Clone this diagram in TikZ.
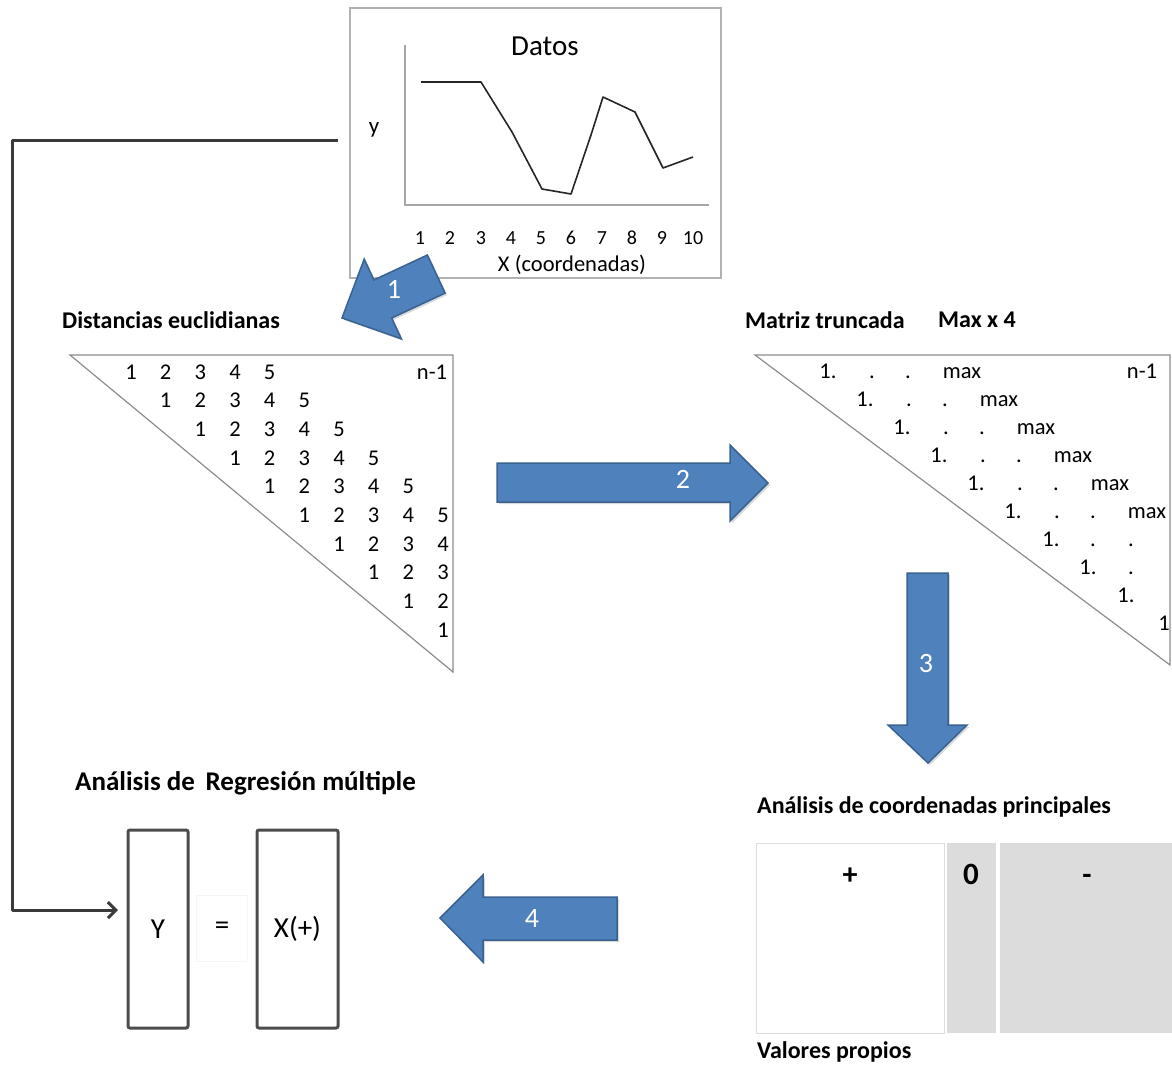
\documentclass[tikz,border=0pt]{standalone}
\usepackage{fontspec}
\setmainfont{Carlito}
\usetikzlibrary{arrows.meta,shadows}
\definecolor{blueA}{HTML}{4F81BD}
\definecolor{blueB}{HTML}{3A6290}
\definecolor{conn}{HTML}{3A3A3A}
\definecolor{panel}{HTML}{DCDCDC}
\definecolor{triline}{HTML}{8C8C8C}
\begin{document}
\begin{tikzpicture}[x=1pt,y=-1pt,
  blockarrow/.style={fill=blueA,draw=blueB,line width=1.5pt,line join=miter,
    drop shadow={shadow xshift=2pt,shadow yshift=-2pt,opacity=0.3}},
  arrlabel/.style={text=white,font=\fontsize{28}{30}\selectfont,inner sep=0pt},
  num/.style={font=\fontsize{22.5}{24}\selectfont,inner sep=0pt,anchor=base},
  tick/.style={font=\fontsize{20}{22}\selectfont,inner sep=0pt},
  ttl/.style={font=\bfseries\fontsize{24}{26}\selectfont,inner sep=0pt,anchor=west},
  tri/.style={draw=triline,line width=1.2pt,line join=miter},
  regbox/.style={draw=black!70,line width=3pt,rounded corners=2pt,minimum width=60pt,minimum height=198pt,font=\fontsize{29}{31}\selectfont},
  connline/.style={draw=conn,line width=3pt}]
\useasboundingbox (0,0) rectangle (1172,1065);

% ---------- Data chart ----------
\node[draw=gray!60,line width=1.5pt,minimum width=371pt,minimum height=270pt,inner sep=0pt] (chart) at (535.5,143) {};
\node[font=\fontsize{29}{31}\selectfont,inner sep=0pt] (datos) at (545,46) {Datos};
\node[font=\fontsize{23}{25}\selectfont,inner sep=0pt] (ylab) at (374,130) {y};
\coordinate (ax0) at (405,205);
\draw[draw=gray!70,line width=1.2pt] (405,45) -- (ax0) -- (709,205);
\draw[black!85,line width=1.6pt,line join=round]
  (421,82) -- (481,82) -- (512,132) -- (542,189) -- (571,194) -- (591,135)
  -- (603,97) -- (635,112) -- (663,168) -- (693,157);
\foreach \k/\xx in {1/420,2/450,3/481,4/511,5/541,6/571,7/602,8/632,9/662,10/693}
  \node[tick] (t\k) at (\xx,238) {\k};
\node[font=\fontsize{22.5}{24}\selectfont,inner sep=0pt] (xlab) at (572,265) {X (coordenadas)};

% ---------- Connector ----------
\coordinate (cstart) at (338,140);
\coordinate (Yin) at (118,910);
\draw[connline,-{Straight Barb[length=8pt,width=16pt]},line join=round] (cstart) -- (12,140) -- (12,910) -- (Yin);

% ---------- Arrow 1 ----------
\begin{scope}[shift={(342,318)},rotate=205]
  \path[blockarrow] (0,0) -- (-45,44) -- (-45,21) -- (-104,21) -- (-104,-21) -- (-45,-21) -- (-45,-44) -- cycle;
\end{scope}
\node[arrlabel] (l1) at (394,289) {1};

% ---------- Distance matrix ----------
\node[ttl] (dist) at (62,320) {Distancias euclidianas};
\draw[tri] (70,355) -- (453,355) -- (453,672) -- cycle;
\foreach \i in {0,...,9}{
  \foreach \j in {0,...,4}{
    \pgfmathtruncatemacro\c{\i+\j}
    \pgfmathtruncatemacro\v{\j+1}
    \ifnum\c<10
      \node[num] (d-\i-\j) at ({131+34.67*\c},{379+28.67*\i}) {\v};
    \fi
  }
}
\node[num] (dn1) at (432,379) {n-1};

% ---------- Arrow 2 ----------
\path[blockarrow] (497,463) -- (730,463) -- (730,445) -- (768,483) -- (730,521) -- (730,502) -- (497,502) -- cycle;
\node[arrlabel] (l2) at (683,479) {2};

% ---------- Truncated matrix ----------
\node[ttl] (trunc) at (745,320) {Matriz truncada};
\node[ttl] (maxx) at (938,320) {Max x 4};
\draw[tri] (755,355) -- (1170,355) -- (1170,665) -- cycle;
\foreach \i in {0,...,5}{
  \node[num] (m-\i-a) at ({828+37*\i},{378+28.1*\i}) {1.};
  \node[num] (m-\i-b) at ({872+37*\i},{378+28.1*\i}) {.};
  \node[num] (m-\i-c) at ({908+37*\i},{378+28.1*\i}) {.};
  \node[num] (m-\i-d) at ({962+37*\i},{378+28.1*\i}) {max};
}
\node[num] (mn1) at (1142,378) {n-1};
\node[num] (m-6-a) at (1051,{378+28.1*6}) {1.};
\node[num] (m-6-b) at (1093,{378+28.1*6}) {.};
\node[num] (m-6-c) at (1131,{378+28.1*6}) {.};
\node[num] (m-7-a) at (1088,{378+28.1*7}) {1.};
\node[num] (m-7-b) at (1131,{378+28.1*7}) {.};
\node[num] (m-8-a) at (1126,{378+28.1*8}) {1.};
\node[num] (m-9-a) at (1164,{378+28.1*9}) {1};

% ---------- Arrow 3 ----------
\path[blockarrow] (907,573) -- (948,573) -- (948,725) -- (967,725) -- (928,763) -- (888,725) -- (907,725) -- cycle;
\node[arrlabel] (l3) at (926,664) {3};

% ---------- Principal coordinates ----------
\node[ttl] (pcoa) at (757,807) {Análisis de coordenadas principales};
\node[draw=blue!8!gray!25,line width=1.2pt,fill=white,minimum width=188pt,minimum height=190pt,anchor=north west,inner sep=0pt] (ppos) at (756,843) {};
\node[fill=panel,minimum width=49pt,minimum height=190pt,anchor=north west,inner sep=0pt] (pzero) at (947,843) {};
\node[fill=panel,minimum width=172pt,minimum height=190pt,anchor=north west,inner sep=0pt] (pneg) at (1000,843) {};
\node[font=\bfseries\fontsize{30}{32}\selectfont,inner sep=0pt,anchor=base] (plus) at (850,884) {+};
\node[font=\bfseries\fontsize{31}{33}\selectfont,inner sep=0pt,anchor=base] (zero) at (971,884) {0};
\node[font=\bfseries\fontsize{30}{32}\selectfont,inner sep=0pt,anchor=base] (minus) at (1087,884) {-};
\node[ttl] (valp) at (757,1052) {Valores propios};

% ---------- Arrow 4 ----------
\path[blockarrow] (617,897) -- (483,897) -- (483,875) -- (440,918) -- (483,962) -- (483,940) -- (617,940) -- cycle;
\node[arrlabel] (l4) at (532,918) {4};

% ---------- Regression ----------
\node[font=\bfseries\fontsize{27}{29}\selectfont,inner sep=0pt,anchor=west] (reg) at (75,783) {Análisis de\, Regresión múltiple};
\node[regbox] (Ybox) at (158,929) {Y};
\node[draw=gray!8,line width=1pt,minimum width=51pt,minimum height=66pt,font=\fontsize{29}{31}\selectfont] (eq) at (222,928) {=};
\node[regbox,minimum width=81pt] (Xbox) at (297.5,929) {X(+)};
\end{tikzpicture}
\end{document}
